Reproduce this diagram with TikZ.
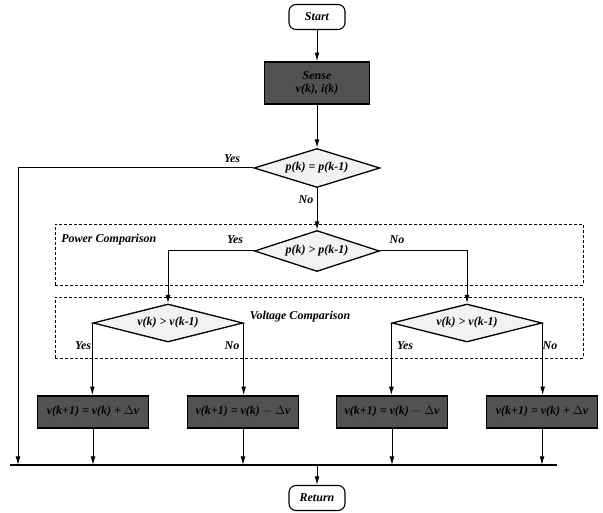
\documentclass[tikz,border=0pt]{standalone}
\usepackage{fontspec}
\setmainfont{Liberation Serif}
\usetikzlibrary{arrows.meta,positioning,shapes.geometric}

\begin{document}
\begin{tikzpicture}[x=1pt, y=-1pt,
  font=\fontsize{12}{13}\selectfont\bfseries\itshape,
  term/.style={draw, line width=1.1pt, rounded corners=7pt, minimum width=56pt, minimum height=25pt, inner sep=1pt},
  proc/.style={draw, line width=1.6pt, fill=black!68, minimum width=111pt, minimum height=32pt, inner sep=2pt},
  dec/.style={draw, line width=1.3pt, diamond, aspect=3.3, inner sep=0pt, fill=black!5},
  group/.style={draw, densely dashed, thin, minimum width=528pt, minimum height=61pt, inner sep=0pt},
  flow/.style={-{Latex[length=3mm, width=1.7mm]}, line width=1pt},
  bus/.style={line width=1.1pt}
]
\useasboundingbox (0,0) rectangle (603,513);

% comparison frames
\node[group] (power) at (319,255) {};
\node[group] (volt) at (319,327.5) {};
\node[right=3pt of power.west, yshift=15pt] (powerlbl) {Power Comparison};
\node (voltlbl) at (300,317) {Voltage Comparison};

% main column
\node[term] (start) at (317,17) {Start};
\node[proc, minimum width=105pt, minimum height=42pt, align=center] (sense) at (317,83) {Sense\\v(k), i(k)};
\node[dec, minimum width=126pt, minimum height=39pt] (eq) at (317,168) {p(k) = p(k-1)};
\node[dec, minimum width=125pt, minimum height=41pt] (gt) at (317,251) {p(k) {\textgreater} p(k-1)};

% voltage decisions
\node[dec, minimum width=150pt, minimum height=38pt] (vl) at (168,323) {v(k) {\textgreater} v(k-1)};
\node[dec, minimum width=150pt, minimum height=38pt] (vr) at (467,323) {v(k) {\textgreater} v(k-1)};

% updates
\node[proc] (up1) at (93,412) {v(k+1) = v(k) + $\Delta$v};
\node[proc] (dn1) at (243,412) {v(k+1) = v(k) $-$ $\Delta$v};
\node[proc] (dn2) at (392,412) {v(k+1) = v(k) $-$ $\Delta$v};
\node[proc] (up2) at (542,412) {v(k+1) = v(k) + $\Delta$v};

\node[term] (ret) at (317,498) {Return};

% bus points
\coordinate (busL) at (10,465);
\coordinate (busR) at (557,465);
\coordinate (b0) at (18,465);
\coordinate (bm) at (317,465);

% connectors
\draw[flow] (start) -- (sense);
\draw[flow] (sense) -- (eq);
\draw[flow] (eq.west) -| (b0);
\draw[flow] (eq) -- (gt);
\draw[flow] (gt.west) -| (vl);
\draw[flow] (gt.east) -| (vr);
\draw[flow] (vl.west) -- (vl.west |- up1.north);
\draw[flow] (vl.east) -- (vl.east |- dn1.north);
\draw[flow] (vr.west) -- (vr.west |- dn2.north);
\draw[flow] (vr.east) -- (vr.east |- up2.north);
\draw[bus] (busL) -- (busR);
\foreach \b in {up1,dn1,dn2,up2}
  \draw[flow] (\b) -- (\b |- busL);
\draw[flow] (bm) -- (ret);

% branch labels
\node at (232,159) {Yes};
\node at (306,200) {No};
\node at (235,240) {Yes};
\node at (397,240) {No};
\node at (83,346) {Yes};
\node at (232,346) {No};
\node at (405,346) {Yes};
\node at (550,346) {No};
\end{tikzpicture}
\end{document}
